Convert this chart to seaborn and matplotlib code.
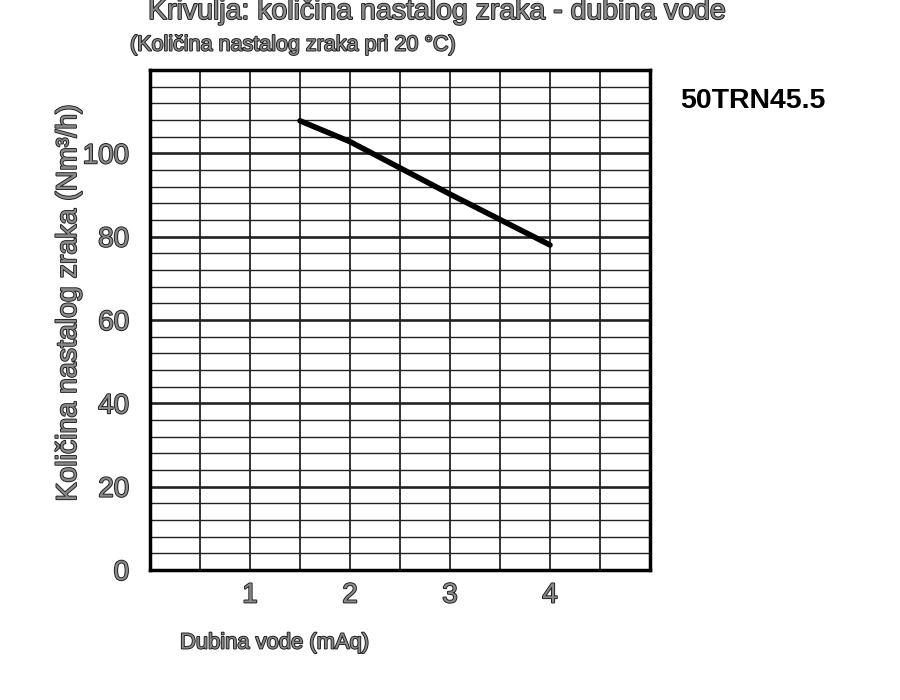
import matplotlib
matplotlib.use('Agg')
import matplotlib.pyplot as plt
import matplotlib.patheffects as pe
import numpy as np
import pandas as pd
import seaborn as sns

# ── Данные ────────────────────────────────────────────────────────────────────
dubina = [1.5, 2.0, 2.5, 3.0, 3.5, 4.0]          # mAq
zrak   = [107.8, 102.8, 96.5, 90.2, 84.1, 78.0]   # Nm³/h
model_name = "50TRN45.5"

x_ticks = [1, 2, 3, 4]
y_ticks = [0, 20, 40, 60, 80, 100]

df = pd.DataFrame({'dubina': dubina, 'zrak': zrak})

sns.set_style('white')
plt.rcParams['font.family'] = ['Liberation Sans', 'DejaVu Sans']

outline = [pe.Stroke(linewidth=1.3, foreground='#1a1a1a'), pe.Normal()]
GRAY = '#8a8a8a'

fig = plt.figure(figsize=(9, 7), dpi=100)
ax = fig.add_axes([150/900, 130/700, 500/900, 500/700])

# сетка
for xv in np.arange(0.5, 5.0, 0.5):
    ax.axvline(xv, color='#222', lw=1.3, zorder=1)
for yv in np.arange(4, 120, 4):
    ax.axhline(yv, color='#222', lw=1.9 if yv % 20 == 0 else 1.0, zorder=1)

sns.lineplot(data=df, x='dubina', y='zrak', ax=ax, color='black', lw=4, zorder=3)

ax.set_xlim(0, 5)
ax.set_ylim(0, 120)
ax.set_xticks(x_ticks)
ax.set_yticks(y_ticks)
ax.tick_params(length=0, labelsize=20, labelcolor=GRAY)
ax.tick_params(axis='y', pad=15)
ax.tick_params(axis='x', pad=9)
for lab in ax.get_xticklabels() + ax.get_yticklabels():
    lab.set_path_effects(outline)
for s in ax.spines.values():
    s.set_color('black')
    s.set_linewidth(2.5)

ax.set_xlabel('')
ax.set_ylabel('')

fig.text(69/900, 1 - 303/700, 'Količina nastalog zraka (Nm³/h)', rotation=90,
         ha='center', va='center', fontsize=20.5, color=GRAY, path_effects=outline)
fig.text(180/900, 1 - 643/700, 'Dubina vode (mAq)', ha='left', va='center',
         fontsize=15.8, color=GRAY, path_effects=outline)
fig.text(437/900, 1 - 12/700, 'Krivulja: količina nastalog zraka - dubina vode',
         ha='center', va='center', fontsize=20.5, color=GRAY, path_effects=outline)
fig.text(130/900, 1 - 45/700, '(Količina nastalog zraka pri 20 °C)', ha='left',
         va='center', fontsize=15.5, color=GRAY, path_effects=outline)
fig.text(680/900, 1 - 101/700, model_name, ha='left', va='center',
         fontsize=20.5, fontweight='bold', color='black')

plt.savefig('out.png', dpi=100)
